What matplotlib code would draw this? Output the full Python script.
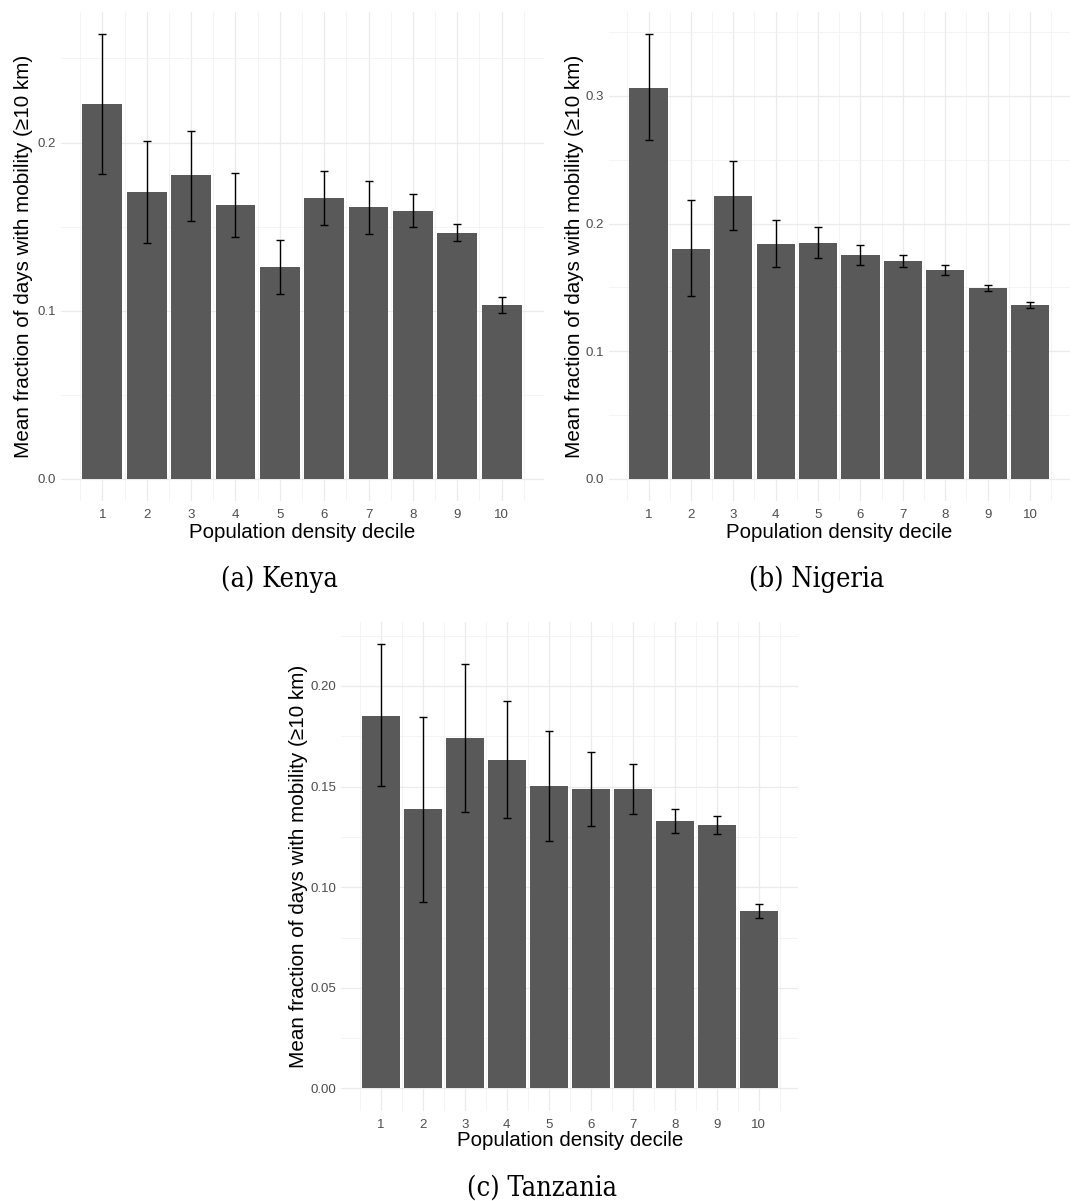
import numpy as np
import matplotlib
matplotlib.use("Agg")
import matplotlib.pyplot as plt
from matplotlib.ticker import FixedLocator, FormatStrFormatter

plt.rcParams['font.family'] = ['Liberation Sans', 'DejaVu Sans']

deciles = np.arange(1, 11)

kenya_mean = [0.2227, 0.1705, 0.1804, 0.1628, 0.1258, 0.1668, 0.1614, 0.1592, 0.1464, 0.1033]
kenya_lo = [0.1814, 0.1404, 0.1535, 0.1440, 0.1101, 0.1509, 0.1458, 0.1496, 0.1412, 0.0985]
kenya_hi = [0.2644, 0.2010, 0.2069, 0.1818, 0.1418, 0.1828, 0.1772, 0.1691, 0.1515, 0.1084]

nigeria_mean = [0.3065, 0.1803, 0.2217, 0.1842, 0.1847, 0.1751, 0.1707, 0.1634, 0.1498, 0.1360]
nigeria_lo = [0.2653, 0.1431, 0.1949, 0.1662, 0.1728, 0.1678, 0.1658, 0.1600, 0.1472, 0.1337]
nigeria_hi = [0.3484, 0.2181, 0.2489, 0.2027, 0.1972, 0.1830, 0.1756, 0.1673, 0.1521, 0.1386]

tanzania_mean = [0.1853, 0.1387, 0.1742, 0.1634, 0.1502, 0.1489, 0.1487, 0.1328, 0.1307, 0.0881]
tanzania_lo = [0.1503, 0.0929, 0.1374, 0.1346, 0.1230, 0.1303, 0.1366, 0.1267, 0.1263, 0.0848]
tanzania_hi = [0.2209, 0.1846, 0.2111, 0.1927, 0.1776, 0.1672, 0.1610, 0.1388, 0.1353, 0.0916]

kenya_ticks = [0.0, 0.1, 0.2]
nigeria_ticks = [0.0, 0.1, 0.2, 0.3]
tanzania_ticks = [0.00, 0.05, 0.10, 0.15, 0.20]

x_title = "Population density decile"
y_title = "Mean fraction of days with mobility (\u226510 km)"

W, H = 1086, 1201
DPI = 100
fig = plt.figure(figsize=(W / DPI, H / DPI), dpi=DPI)
fig.patch.set_facecolor("white")


def px_axes(left, top, right, bottom):
    return fig.add_axes([left / W, 1 - bottom / H, (right - left) / W, (bottom - top) / H])


def panel(ax, mean, lo, hi, yticks, fmt):
    mean = np.asarray(mean)
    lo = np.asarray(lo)
    hi = np.asarray(hi)
    ax.set_axisbelow(True)
    ax.bar(deciles, mean, width=0.9, color="#595959", zorder=2)
    ax.errorbar(deciles, mean, yerr=[mean - lo, hi - mean], fmt="none",
                ecolor="black", elinewidth=1.0, capsize=3.2, capthick=1.0, zorder=3)
    top = hi.max()
    ax.set_ylim(-0.05 * top, 1.05 * top)
    ax.set_xlim(0.55 - 0.495, 10.45 + 0.495)
    ax.xaxis.set_major_locator(FixedLocator(deciles))
    ax.xaxis.set_minor_locator(FixedLocator(np.arange(0.5, 11, 1.0)))
    ax.yaxis.set_major_locator(FixedLocator(yticks))
    step = yticks[1] - yticks[0]
    minors = np.arange(yticks[0] + step / 2, 1.05 * top, step)
    ax.yaxis.set_minor_locator(FixedLocator(minors))
    ax.yaxis.set_major_formatter(FormatStrFormatter(fmt))
    ax.grid(which="major", color="#EBEBEB", linewidth=0.9)
    ax.grid(which="minor", color="#F2F2F2", linewidth=0.6)
    for s in ax.spines.values():
        s.set_visible(False)
    ax.tick_params(which="both", length=0)
    ax.tick_params(axis="x", pad=6, labelsize=9.5, labelcolor="#4D4D4D")
    ax.tick_params(axis="y", pad=3.5, labelsize=9.5, labelcolor="#4D4D4D")
    ax.set_facecolor("white")


# Kenya
ax1 = px_axes(60.5, 12, 543.5, 501)
panel(ax1, kenya_mean, kenya_lo, kenya_hi, kenya_ticks, "%.1f")
# Nigeria
ax2 = px_axes(608.5, 12, 1070, 501)
panel(ax2, nigeria_mean, nigeria_lo, nigeria_hi, nigeria_ticks, "%.1f")
# Tanzania
ax3 = px_axes(341.3, 621.7, 798.3, 1110.7)
panel(ax3, tanzania_mean, tanzania_lo, tanzania_hi, tanzania_ticks, "%.2f")


def ftext(x, y, s, **kw):
    fig.text(x / W, 1 - y / H, s, **kw)


x_kw = dict(fontsize=14.8, color="black", ha="center", va="center")
y_kw = dict(fontsize=14.9, color="black", ha="center", va="center", rotation=90)
ftext(302, 532, x_title, **x_kw)
ftext(839, 532, x_title, **x_kw)
ftext(570, 1141, x_title, **x_kw)
ftext(24, 256.5, y_title, **y_kw)
ftext(574, 256.5, y_title, **y_kw)
ftext(299, 866, y_title, **y_kw)

cap_kw = dict(fontsize=19.5, family="DejaVu Serif", fontstretch="condensed",
              color="black", ha="center", va="baseline")
ftext(279, 587, "(a) Kenya", **cap_kw)
ftext(816.5, 587, "(b) Nigeria", **cap_kw)
ftext(542, 1196, "(c) Tanzania", **cap_kw)

fig.savefig("out.png", dpi=DPI, facecolor="white")
